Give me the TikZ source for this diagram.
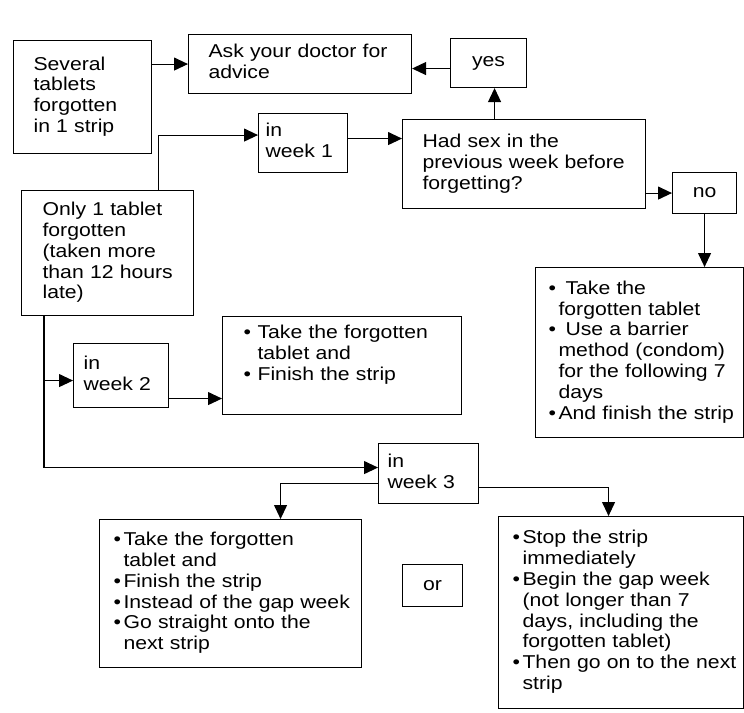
\documentclass[tikz,border=0pt]{standalone}
\usepackage{fontspec}
\setmainfont{Liberation Sans}[FakeStretch=1.14]
\usetikzlibrary{arrows.meta}
\newcommand{\inbox}[2]{\hspace*{#1}\begin{tabular}{@{}l@{}}#2\end{tabular}}
\newcommand{\bullist}[3]{\hspace*{#1}\begin{tabular}{@{}p{#2}@{}l@{}}#3\end{tabular}}
\begin{document}
\begin{tikzpicture}[x=1pt,y=-1pt,
    box/.style={draw,line width=1.1pt,inner sep=0pt,anchor=north west,align=left,
      font=\fontsize{18.6pt}{20.8pt}\selectfont},
    arr/.style={line width=1.1pt,-{Triangle[length=14pt,width=13pt]}}]
  \useasboundingbox (0,0) rectangle (744,712);
  \node[box,text width=138pt,minimum height=113pt] (several) at (13,40) {\inbox{20pt}{Several\\tablets\\forgotten\\in 1 strip}};
  \node[box,text width=223pt,minimum height=59pt] (doctor) at (188,34) {\inbox{20pt}{Ask your doctor for\\advice}};
  \node[box,text width=76pt,minimum height=49pt,align=center] (yes) at (450,38) {yes};
  \node[box,text width=89pt,minimum height=59pt] (wk1) at (258,113) {\inbox{7pt}{in\\week 1}};
  \node[box,text width=243pt,minimum height=89pt] (sex) at (402,119) {\inbox{20pt}{Had sex in the\\previous week before\\forgetting?}};
  \node[box,text width=64pt,minimum height=41pt,align=center] (no) at (672,172) {no};
  \node[box,text width=172pt,minimum height=125pt] (only) at (21,190) {\inbox{21pt}{Only 1 tablet\\forgotten\\(taken more\\than 12 hours\\late)}};
  \node[box,text width=208pt,minimum height=170pt] (barrier) at (535,267) {\bullist{13pt}{10pt}{%
    • & \hspace{7pt}Take the\\ & forgotten tablet\\
    • & \hspace{7pt}Use a barrier\\ & method (condom)\\ & for the following 7\\ & days\\
    • & And finish the strip}};
  \node[box,text width=239pt,minimum height=98pt] (take2) at (222,316) {\bullist{21pt}{14pt}{%
    • & Take the forgotten\\ & tablet and\\
    • & Finish the strip\\ & }};
  \node[box,text width=95pt,minimum height=64pt] (wk2) at (73,343) {\inbox{10pt}{in\\week 2}};
  \node[box,text width=100pt,minimum height=60pt] (wk3) at (378,443) {\inbox{9pt}{in\\week 3}};
  \node[box,text width=262pt,minimum height=148pt] (stay) at (99,519) {\bullist{14pt}{10pt}{%
    • & Take the forgotten\\ & tablet and\\
    • & Finish the strip\\
    • & Instead of the gap week\\
    • & Go straight onto the\\ & next strip}};
  \node[box,text width=60pt,minimum height=42pt,align=center] (or) at (402,564) {or};
  \node[box,text width=245pt,minimum height=192pt] (stop) at (498,516) {\bullist{14pt}{10pt}{%
    • & Stop the strip\\ & immediately\\
    • & Begin the gap week\\ & (not longer than 7\\ & days, including the\\ & forgotten tablet)\\
    • & Then go on to the next\\ & strip}};

  \coordinate (yesin) at ([xshift=6pt]yes.south);
  \coordinate (yesout) at ([yshift=-5.5pt]yes.west);
  \coordinate (wk1out) at ([yshift=4.5pt]wk1.east);
  \coordinate (trunk) at ([xshift=23pt]only.south west);
  \coordinate (wk2in) at ([yshift=-5pt]wk2.west);
  \coordinate (wk2out) at ([yshift=-23pt]wk2.east);

  \draw[arr] (several.east |- doctor.west) -- (doctor.west);
  \draw[arr] (yesout) -- (yesout -| doctor.east);
  \draw[arr] (yesin |- sex.north) -- (yesin);
  \draw[arr] (no.west -| sex.east) -- (no.west);
  \draw[arr] (no.south) -- (no.south |- barrier.north);
  \draw[arr] ([xshift=51pt]only.north) |- ([yshift=8pt]wk1.west);
  \draw[arr] (wk1out) -- (wk1out -| sex.west);
  \draw[arr] (trunk) |- ([yshift=6pt]wk3.west);
  \draw[arr] (trunk |- wk2in) -- (wk2in);
  \draw[arr] (wk2out) -- (wk2out -| take2.west);
  \draw[arr] ([yshift=-10pt]wk3.west) -| ([xshift=50pt]stay.north);
  \draw[arr] ([yshift=-14pt]wk3.east) -| ([xshift=-12.5pt]stop.north);
\end{tikzpicture}
\end{document}
